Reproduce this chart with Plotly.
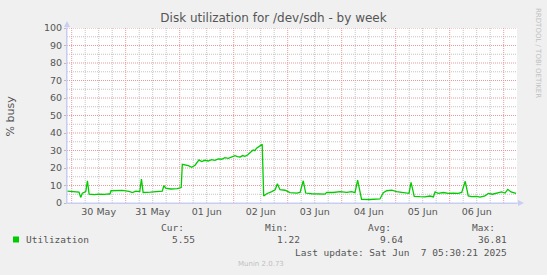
import plotly.graph_objects as go
from datetime import datetime, timedelta

# Disk busy percentage for /dev/sdh, one week view
times = [
    "2025-05-29 22:00", "2025-05-30 01:00", "2025-05-30 03:15", "2025-05-30 04:00",
    "2025-05-30 04:45", "2025-05-30 06:15", "2025-05-30 07:00", "2025-05-30 07:45",
    "2025-05-30 10:00", "2025-05-30 12:00", "2025-05-30 14:30", "2025-05-30 16:30",
    "2025-05-30 17:00", "2025-05-30 17:30", "2025-05-30 20:15", "2025-05-30 22:30",
    "2025-05-31 01:30", "2025-05-31 03:00", "2025-05-31 04:30", "2025-05-31 06:15",
    "2025-05-31 07:00", "2025-05-31 07:45", "2025-05-31 11:00", "2025-05-31 14:00",
    "2025-05-31 16:15", "2025-05-31 17:00", "2025-05-31 17:45", "2025-05-31 20:00",
    "2025-05-31 22:55", "2025-06-01 00:40", "2025-06-01 01:10", "2025-06-01 03:50",
    "2025-06-01 05:20", "2025-06-01 06:50", "2025-06-01 08:35", "2025-06-01 09:45",
    "2025-06-01 11:10", "2025-06-01 12:40", "2025-06-01 14:10", "2025-06-01 15:40",
    "2025-06-01 17:10", "2025-06-01 18:40", "2025-06-01 20:05", "2025-06-01 21:35",
    "2025-06-01 23:05", "2025-06-02 00:35", "2025-06-02 01:40", "2025-06-02 02:50",
    "2025-06-02 04:00", "2025-06-02 05:00", "2025-06-02 06:10", "2025-06-02 07:15",
    "2025-06-02 08:00", "2025-06-02 08:40", "2025-06-02 09:25", "2025-06-02 10:10",
    "2025-06-02 11:00", "2025-06-02 11:40", "2025-06-02 12:40",
    "2025-06-02 13:20", "2025-06-02 14:40", "2025-06-02 16:55", "2025-06-02 18:25",
    "2025-06-02 19:25", "2025-06-02 20:35", "2025-06-02 22:50", "2025-06-03 01:00",
    "2025-06-03 04:00", "2025-06-03 05:30", "2025-06-03 06:55", "2025-06-03 08:00",
    "2025-06-03 10:40", "2025-06-03 12:10", "2025-06-03 13:35", "2025-06-03 16:35",
    "2025-06-03 17:20", "2025-06-03 20:15", "2025-06-03 23:15", "2025-06-04 02:15",
    "2025-06-04 04:25", "2025-06-04 05:55", "2025-06-04 07:05", "2025-06-04 08:25",
    "2025-06-04 08:50", "2025-06-04 12:35", "2025-06-04 14:50", "2025-06-04 17:00",
    "2025-06-04 18:30", "2025-06-04 20:00", "2025-06-04 22:15", "2025-06-05 00:25",
    "2025-06-05 02:40", "2025-06-05 05:35", "2025-06-05 05:55", "2025-06-05 06:50",
    "2025-06-05 08:15", "2025-06-05 10:50", "2025-06-05 13:00", "2025-06-05 15:15",
    "2025-06-05 16:45", "2025-06-05 17:30", "2025-06-05 18:55", "2025-06-05 21:10",
    "2025-06-05 23:25", "2025-06-06 01:35", "2025-06-06 03:50", "2025-06-06 05:20",
    "2025-06-06 06:55", "2025-06-06 08:15", "2025-06-06 09:50", "2025-06-06 12:00",
    "2025-06-06 13:30", "2025-06-06 15:40", "2025-06-06 17:10", "2025-06-06 19:00",
    "2025-06-06 20:55", "2025-06-06 23:05", "2025-06-07 00:35", "2025-06-07 01:50",
    "2025-06-07 03:15", "2025-06-07 05:30",
]
busy = [
    6.8, 6.5, 6.2, 3.2, 5.6, 6.5, 12.7, 5.0,
    4.8, 5.1, 4.9, 5.2, 5.1, 7.0, 7.0, 7.2,
    6.6, 6.0, 6.8, 6.5, 13.7, 6.0, 6.2, 6.4,
    6.8, 10.0, 8.5, 8.0, 8.2, 8.8, 22.1, 21.3,
    20.4, 21.6, 24.6, 23.7,
    24.4, 24.0, 24.8, 24.4,
    25.2, 25.0, 25.9, 25.5,
    26.4, 27.0, 26.5, 26.3,
    27.1, 26.7, 27.4, 28.4,
    29.6, 30.3, 29.9, 31.3,
    32.1, 32.8, 33.5,
    4.0, 5.3, 6.5, 7.6, 11.0, 7.6, 7.3, 5.9,
    5.7, 6.1, 12.7, 5.7, 5.3, 5.3, 5.0, 5.1,
    6.1, 6.0, 6.5, 6.1, 6.5, 5.9, 13.1, 5.5,
    2.1, 2.0, 2.2, 2.3, 5.9, 7.0, 7.4, 6.5,
    6.1, 5.4, 5.5, 11.8, 3.8, 3.6, 3.5, 4.0,
    3.5, 6.3, 5.5, 6.0, 5.5, 5.7, 5.5, 6.0,
    12.4, 4.0, 3.6, 3.8, 3.4, 4.0, 5.5, 5.0,
    5.7, 6.3, 5.7, 7.8, 6.3, 5.55,
]

day_labels = ["30 May", "31 May", "01 Jun", "02 Jun", "03 Jun", "04 Jun", "05 Jun", "06 Jun"]
stat_names = ["Cur:", "Min:", "Avg:", "Max:"]
stat_values = ["5.55", "1.22", "9.64", "36.81"]
y_major = list(range(0, 101, 10))
y_minor = list(range(5, 100, 10))

x_start = datetime(2025, 5, 29, 21, 55)
x_end = datetime(2025, 6, 7, 5, 55)
first_day = datetime(2025, 5, 30)

W, H = 547, 275
L, R, T, B = 67, 517, 28, 203  # plot area in pixels
day_px = (R - L) / ((x_end - x_start).total_seconds() / 86400)


def px(x):
    return (x - L) / (R - L)


def py(y):
    return (B - y) / (B - T)


# midnight grid (labelled, label shifted to noon) and 6-hour grid
midnights = [first_day + timedelta(days=i) for i in range(len(day_labels) + 1)]
mid_text = day_labels + [""]
six_hour = []
t = datetime(2025, 5, 29, 0, 0)
while t <= x_end:
    if t.hour != 0:
        six_hour.append(t)
    t += timedelta(hours=6)

txt = "#555555"
red_grid = "#e79a9a"
grey_grid = "#c4c4c4"
axis_col = "#c8cdf2"
dots = "1px,1px"

fig = go.Figure()
fig.add_trace(go.Scatter(
    x=times, y=busy, mode="lines",
    line=dict(color="#00cc00", width=1.3),
    hoverinfo="x+y", showlegend=False,
))

fig.update_layout(
    width=W, height=H,
    margin=dict(l=L, r=W - R, t=T, b=H - B),
    paper_bgcolor="#f0f0f0",
    plot_bgcolor="#ffffff",
    font=dict(family="DejaVu Sans", color=txt, size=9.5),
    title=dict(
        text="Disk utilization for /dev/sdh - by week",
        x=0.5, xref="container", xanchor="center",
        y=1 - 18 / H, yref="container", yanchor="middle",
        font=dict(size=12, color="#555555", family="DejaVu Sans"),
    ),
    xaxis=dict(
        type="date",
        range=[x_start, x_end],
        tickmode="array", tickvals=midnights, ticktext=mid_text,
        ticklabelshift=int(round(day_px / 2)),
        showgrid=False, ticks="",
        showline=True, linecolor=axis_col, linewidth=1,
        tickfont=dict(size=9.5, color=txt),
        zeroline=False, fixedrange=True,
    ),
    yaxis=dict(
        range=[0, 100],
        tickmode="array", tickvals=y_major,
        showgrid=False,
        ticks="outside", ticklen=2, tickcolor="#bbbbbb",
        showline=True, linecolor=axis_col, linewidth=1,
        tickfont=dict(size=9.5, color=txt),
        zeroline=False, fixedrange=True,
    ),
)

# dotted grid: grey every 6 hours / 5 %, red at midnight / every 10 %
for v in six_hour:
    fig.add_shape(type="line", xref="x", yref="paper", x0=v, x1=v, y0=0, y1=1,
                  layer="below", line=dict(color=grey_grid, width=1, dash=dots))
for v in y_minor:
    fig.add_shape(type="line", xref="paper", yref="y", x0=0, x1=1, y0=v, y1=v,
                  layer="below", line=dict(color=grey_grid, width=1, dash=dots))
for v in midnights:
    fig.add_shape(type="line", xref="x", yref="paper", x0=v, x1=v, y0=0, y1=1,
                  layer="below", line=dict(color=red_grid, width=1, dash=dots))
for v in y_major[1:]:
    fig.add_shape(type="line", xref="paper", yref="y", x0=0, x1=1, y0=v, y1=v,
                  layer="below", line=dict(color=red_grid, width=1, dash=dots))

# axis arrows
fig.add_shape(type="path", xref="paper", yref="paper",
              path=f"M {px(64)} {py(27)} L {px(70)} {py(27)} L {px(67)} {py(21)} Z",
              fillcolor=axis_col, line=dict(width=0))
fig.add_shape(type="line", xref="paper", yref="paper",
              x0=px(67), x1=px(67), y0=py(203), y1=py(23),
              line=dict(color=axis_col, width=1))
fig.add_shape(type="line", xref="paper", yref="paper",
              x0=px(67), x1=px(521), y0=py(203), y1=py(203),
              line=dict(color=axis_col, width=1))
fig.add_shape(type="path", xref="paper", yref="paper",
              path=f"M {px(518)} {py(200)} L {px(518)} {py(206)} L {px(524)} {py(203)} Z",
              fillcolor=axis_col, line=dict(width=0))

annotations = []
# y axis title
annotations.append(dict(text="% busy", xref="paper", yref="paper",
                        x=px(10), y=py(115.5), textangle=-90, showarrow=False,
                        xanchor="center", yanchor="middle",
                        font=dict(size=11, color=txt)))
# vertical credit
annotations.append(dict(text="RRDTOOL / TOBI OETIKER", xref="paper", yref="paper",
                        x=px(538), y=py(53), textangle=90, showarrow=False,
                        xanchor="center", yanchor="middle",
                        font=dict(size=7, color="#c0c0c0")))

mono = "DejaVu Sans Mono"
stat_right = [186, 290, 393, 497]
val_right = [197, 302, 405, 509]
for name, xr in zip(stat_names, stat_right):
    annotations.append(dict(text=name, xref="paper", yref="paper",
                            x=px(xr), y=py(227), showarrow=False,
                            xanchor="right", yanchor="middle",
                            font=dict(family=mono, size=9.5, color=txt)))
for val, xr in zip(stat_values, val_right):
    annotations.append(dict(text=val, xref="paper", yref="paper",
                            x=px(xr), y=py(239.5), showarrow=False,
                            xanchor="right", yanchor="middle",
                            font=dict(family=mono, size=9.5, color=txt)))
annotations.append(dict(text="Utilization", xref="paper", yref="paper",
                        x=px(24), y=py(239.5), showarrow=False,
                        xanchor="left", yanchor="middle",
                        font=dict(family=mono, size=9.5, color=txt)))
annotations.append(dict(text="Last update: Sat Jun\u00a0 7 05:30:21 2025",
                        xref="paper", yref="paper",
                        x=px(509), y=py(252), showarrow=False,
                        xanchor="right", yanchor="middle",
                        font=dict(family=mono, size=9.5, color=txt)))
annotations.append(dict(text="Munin 2.0.73", xref="paper", yref="paper",
                        x=px(261), y=py(264), showarrow=False,
                        xanchor="center", yanchor="middle",
                        font=dict(size=7, color="#c0c0c0")))
fig.update_layout(annotations=annotations)

# legend swatch
fig.add_shape(type="rect", xref="paper", yref="paper",
              x0=px(13), x1=px(19), y0=py(242.5), y1=py(236.5),
              fillcolor="#00cc00", line=dict(width=0))

fig.write_html("out.html")
